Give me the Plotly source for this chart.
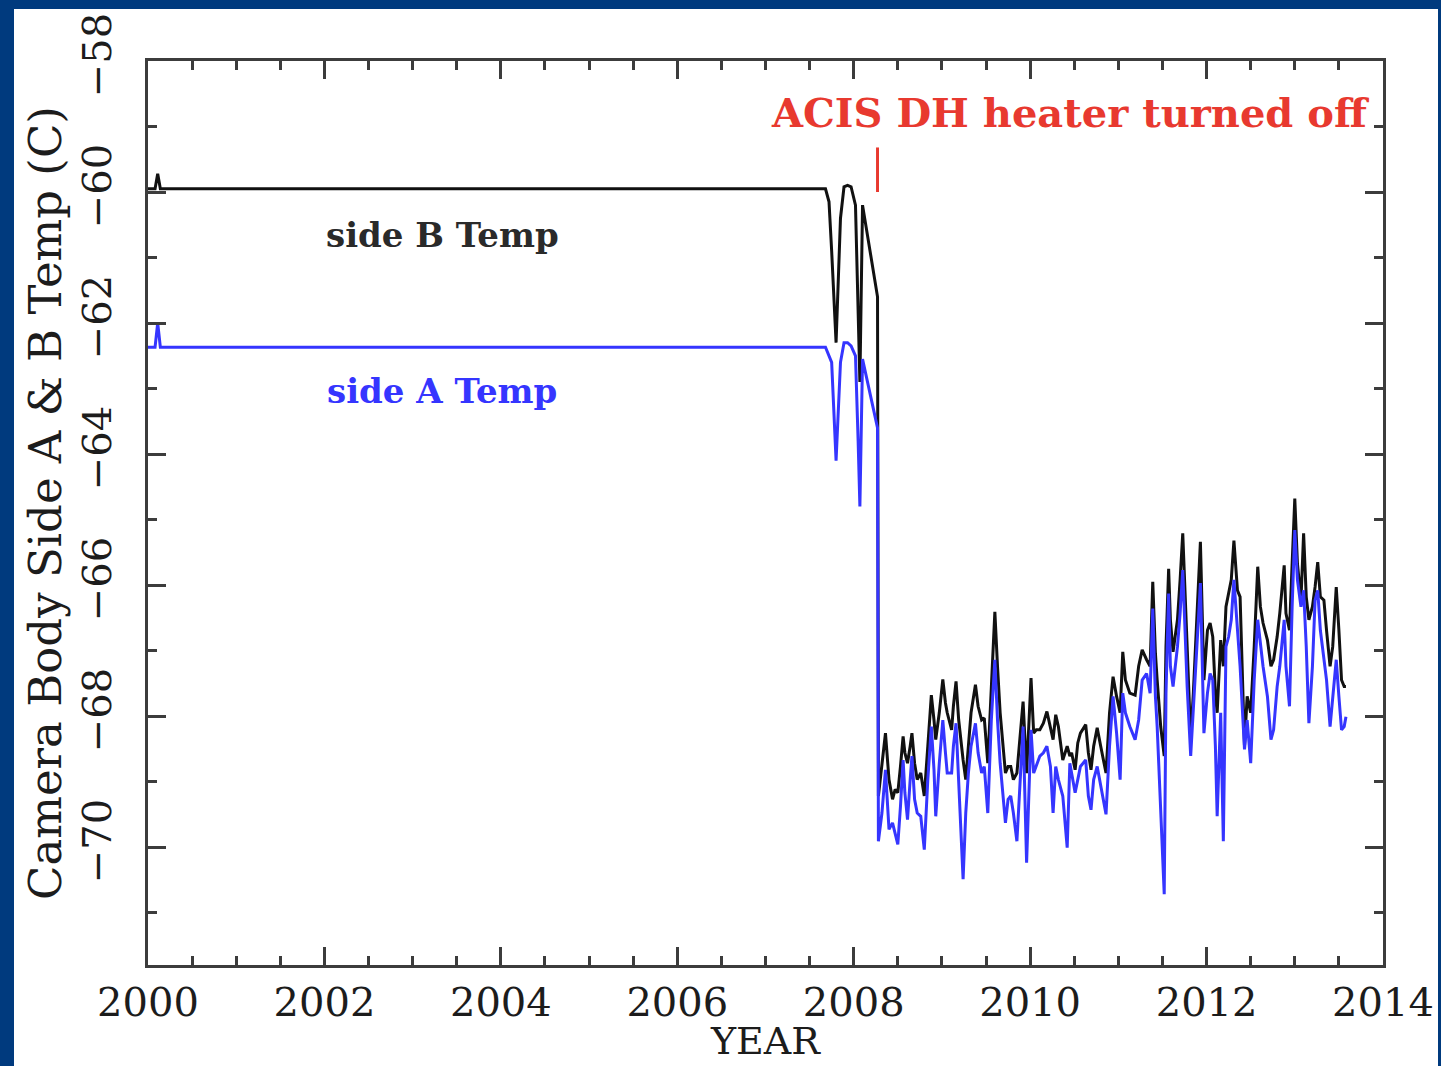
import plotly.graph_objects as go

# ---------------- data ----------------
# early part (flat period + pre-shutdown dips)
years_early = [2000.0, 2000.08, 2000.11, 2000.14, 2007.68, 2007.72, 2007.75, 2007.80,
               2007.85, 2007.89, 2007.93, 2007.97, 2008.02, 2008.05, 2008.07, 2008.10,
               2008.17, 2008.25, 2008.27]
side_b_early = [-59.95, -59.95, -59.72, -59.95, -59.95, -60.15, -60.9, -62.3,
                -60.4, -59.92, -59.9, -59.92, -60.2, -61.8, -62.9, -60.2,
                -60.8, -61.5, -61.6]
side_a_early = [-62.37, -62.37, -62.0, -62.37, -62.37, -62.5, -62.6, -64.1,
                -62.6, -62.3, -62.3, -62.35, -62.5, -63.8, -64.8, -62.55,
                -63.0, -63.5, -63.6]

# after the DH heater was turned off
years_late = [
    2008.28, 2008.32, 2008.36, 2008.40, 2008.44, 2008.47, 2008.50, 2008.53, 2008.56, 2008.58,
    2008.61, 2008.64, 2008.66, 2008.69, 2008.72, 2008.76, 2008.80, 2008.84, 2008.88, 2008.91,
    2008.93, 2008.97, 2009.01, 2009.04, 2009.06, 2009.11, 2009.13, 2009.16, 2009.19, 2009.24,
    2009.27, 2009.30, 2009.33, 2009.38, 2009.41, 2009.45, 2009.48, 2009.52, 2009.56, 2009.60,
    2009.63, 2009.66, 2009.72, 2009.75, 2009.78, 2009.81, 2009.85, 2009.89, 2009.92, 2009.96,
    2010.01, 2010.04, 2010.07, 2010.11, 2010.15, 2010.19, 2010.23, 2010.26, 2010.29, 2010.32,
    2010.37, 2010.42, 2010.45, 2010.47, 2010.51, 2010.54, 2010.57, 2010.63, 2010.66, 2010.69,
    2010.72, 2010.76, 2010.80, 2010.86, 2010.90, 2010.94, 2010.98, 2011.02, 2011.05, 2011.08,
    2011.13, 2011.19, 2011.23, 2011.27, 2011.32, 2011.36, 2011.39, 2011.42, 2011.44, 2011.48,
    2011.52, 2011.54, 2011.57, 2011.59, 2011.62, 2011.67, 2011.70, 2011.73, 2011.78, 2011.82,
    2011.85, 2011.89, 2011.93, 2011.97, 2012.01, 2012.04, 2012.07, 2012.10, 2012.12, 2012.16,
    2012.19, 2012.22, 2012.25, 2012.28, 2012.31, 2012.35, 2012.38, 2012.43, 2012.46, 2012.50,
    2012.54, 2012.58, 2012.61, 2012.64, 2012.69, 2012.73, 2012.76, 2012.80, 2012.83, 2012.88,
    2012.90, 2012.94, 2012.97, 2013.00, 2013.03, 2013.07, 2013.10, 2013.13, 2013.16, 2013.20,
    2013.23, 2013.26, 2013.29, 2013.33, 2013.36, 2013.40, 2013.43, 2013.47, 2013.50, 2013.53,
    2013.56, 2013.58]
side_b_late = [
    -69.22, -68.77, -68.26, -68.97, -69.27, -69.12, -69.17, -68.77, -68.31, -68.56,
    -68.72, -68.46, -68.26, -68.72, -68.97, -68.87, -69.22, -68.46, -67.68, -68.06,
    -68.36, -67.95, -67.44, -67.80, -67.95, -68.21, -67.85, -67.47, -68.06, -68.67,
    -68.97, -68.46, -67.95, -67.52, -67.85, -68.06, -68.03, -68.72, -67.45, -66.41,
    -67.24, -67.95, -68.87, -68.77, -68.77, -68.97, -68.87, -68.26, -67.78, -68.87,
    -67.42, -68.26, -68.21, -68.21, -68.11, -67.93, -68.16, -68.36, -67.98, -68.16,
    -68.67, -68.46, -68.61, -68.56, -68.82, -68.41, -68.26, -68.13, -68.56, -68.82,
    -68.46, -68.18, -68.46, -68.87, -67.95, -67.40, -67.70, -67.95, -67.02, -67.45,
    -67.65, -67.68, -67.24, -66.99, -67.14, -67.24, -65.95, -67.04, -67.45, -68.16,
    -68.61, -66.94, -65.75, -66.53, -67.02, -66.53, -65.92, -65.21, -66.94, -68.36,
    -67.65, -66.43, -65.34, -67.45, -66.69, -66.58, -66.79, -67.65, -67.95, -66.84,
    -67.24, -66.33, -66.13, -65.92, -65.32, -66.08, -66.18, -68.46, -67.70, -67.95,
    -66.94, -65.72, -66.33, -66.58, -66.84, -67.24, -67.14, -66.79, -66.43, -65.70,
    -66.43, -66.69, -65.67, -64.68, -65.67, -66.23, -65.21, -66.18, -66.53, -66.33,
    -66.03, -65.65, -66.18, -66.23, -66.69, -67.24, -66.94, -66.03, -66.69, -67.45,
    -67.55, -67.55]
side_a_late = [
    -69.91, -69.48, -68.82, -69.73, -69.63, -69.78, -69.96, -69.38, -68.67, -69.17,
    -69.58, -68.97, -68.61, -69.27, -69.48, -69.53, -70.04, -68.97, -68.16, -68.82,
    -69.53, -68.72, -68.06, -68.56, -68.87, -68.87, -68.46, -68.11, -68.97, -70.49,
    -69.48, -68.87, -68.46, -68.11, -68.56, -68.87, -68.77, -69.48, -68.06, -67.14,
    -68.06, -68.72, -69.63, -69.27, -69.22, -69.48, -69.91, -68.97, -68.16, -70.24,
    -68.21, -68.87, -68.77, -68.61, -68.56, -68.46, -68.77, -69.48, -68.77, -68.97,
    -69.22, -70.01, -68.72, -68.87, -69.17, -68.97, -68.77, -68.67, -69.22, -69.43,
    -68.97, -68.77, -69.07, -69.50, -68.46, -67.70, -68.26, -68.97, -67.65, -67.95,
    -68.16, -68.36, -68.06, -67.45, -67.35, -67.65, -66.36, -67.70, -68.16, -69.48,
    -70.72, -67.65, -66.13, -67.24, -67.55, -66.94, -66.43, -65.77, -67.55, -68.61,
    -67.95, -66.94, -65.97, -68.26, -67.65, -67.35, -67.45, -68.46, -69.53, -67.95,
    -69.91, -66.94, -66.79, -66.53, -65.92, -66.69, -67.24, -68.51, -68.06, -68.72,
    -67.45, -66.53, -66.94, -67.24, -67.70, -68.36, -68.21, -67.55, -67.24, -66.53,
    -67.24, -67.85, -66.33, -65.16, -65.92, -66.33, -66.08, -66.94, -68.11, -67.24,
    -66.23, -66.08, -66.69, -67.14, -67.45, -68.16, -67.70, -67.14, -67.70, -68.21,
    -68.16, -68.01]

x_tick_vals = [2000, 2002, 2004, 2006, 2008, 2010, 2012, 2014]
y_tick_vals = [-70, -68, -66, -64, -62, -60, -58]

event_year = 2008.27
event_label = "ACIS DH heater turned off"
x_title = "YEAR"
y_title = "Camera Body Side A & B Temp (C)"

years = years_early + years_late
side_b = side_b_early + side_b_late
side_a = side_a_early + side_a_late

# ---------------- figure ----------------
BLUE_FRAME = "#003a7e"
AX = "#3c3c3c"
TXT = "#1c1c1c"
FONT = "DejaVu Serif"
RED = "#e8392f"
BLUE = "#3535ff"

fig = go.Figure()
fig.add_trace(go.Scatter(x=years, y=side_b, mode="lines", name="side B Temp",
                         line=dict(color="#111111", width=3)))
fig.add_trace(go.Scatter(x=years, y=side_a, mode="lines", name="side A Temp",
                         line=dict(color=BLUE, width=3)))

L, R, T, B = 148, 58, 61, 101
W, H = 1441, 1066
pw, ph = W - L - R, H - T - B

def px2paper_x(px):
    return (px - L) / pw

def py2paper_y(py):
    return (H - B - py) / ph

# white page area inside the blue frame
fig.add_shape(type="rect", xref="paper", yref="paper", layer="below",
              x0=px2paper_x(14), x1=px2paper_x(1438), y0=py2paper_y(1100), y1=py2paper_y(9),
              fillcolor="white", line=dict(width=0))

# red marker line for the heater event
fig.add_shape(type="line", xref="x", yref="y", x0=event_year, x1=event_year,
              y0=-59.32, y1=-60.0, line=dict(color=RED, width=3))

fig.add_annotation(x=2010.45, y=-58.78, text="<b>" + event_label + "</b>", showarrow=False,
                   font=dict(family=FONT, size=40, color=RED))
fig.add_annotation(x=2003.34, y=-60.66, text="<b>side B Temp</b>", showarrow=False,
                   font=dict(family=FONT, size=34, color="#2a2a2a"))
fig.add_annotation(x=2003.33, y=-63.04, text="<b>side A Temp</b>", showarrow=False,
                   font=dict(family=FONT, size=34, color=BLUE))

# axis titles as annotations (exact placement)
fig.add_annotation(xref="paper", yref="paper", x=px2paper_x(765), y=py2paper_y(1041),
                   text=x_title, showarrow=False, xanchor="center", yanchor="middle",
                   font=dict(family=FONT, size=38, color=TXT))
fig.add_annotation(xref="paper", yref="paper", x=px2paper_x(45), y=py2paper_y(503),
                   text=y_title, showarrow=False, textangle=-90,
                   xanchor="center", yanchor="middle",
                   font=dict(family=FONT, size=45, color=TXT))

axis_common = dict(
    showgrid=False, zeroline=False, showline=True, linecolor=AX, linewidth=3,
    mirror="ticks", ticks="inside", ticklen=18, tickwidth=2.5, tickcolor=AX,
    tickfont=dict(family=FONT, size=40, color=TXT),
    automargin=False,
)

fig.update_xaxes(range=[2000, 2014], tickvals=x_tick_vals,
                 ticktext=[str(v) for v in x_tick_vals],
                 minor=dict(dtick=0.5, tick0=2000, ticks="inside", ticklen=9,
                            tickwidth=2.5, tickcolor=AX),
                 ticklabelstandoff=0,
                 **axis_common)
fig.update_yaxes(range=[-71.8, -58], tickvals=y_tick_vals,
                 ticktext=["\u2212" + str(abs(v)) for v in y_tick_vals],
                 minor=dict(dtick=1, tick0=-58, ticks="inside", ticklen=9,
                            tickwidth=2.5, tickcolor=AX),
                 tickangle=-90,
                 ticklabelstandoff=18,
                 **axis_common)

fig.update_layout(width=W, height=H, margin=dict(l=L, r=R, t=T, b=B, pad=0),
                  paper_bgcolor=BLUE_FRAME, plot_bgcolor="white",
                  showlegend=False)

fig.write_html("out.html")
